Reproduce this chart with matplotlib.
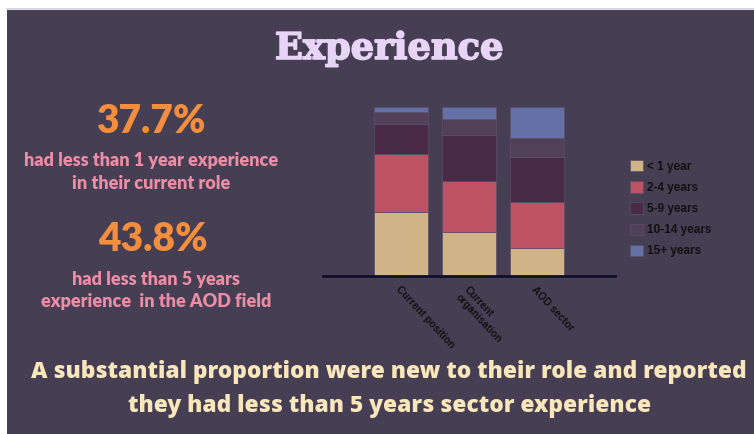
import matplotlib
matplotlib.use("Agg")
import matplotlib.pyplot as plt
import matplotlib.patheffects as pe
from matplotlib.patches import Rectangle, Patch

# share of respondents (%) by length of experience
categories = ["Current position", "Current\norganisation", "AOD sector"]
bands = ["< 1 year", "2-4 years", "5-9 years", "10-14 years", "15+ years"]
lt_1 = [37.7, 25.8, 16.5]
y2_4 = [34.2, 30.4, 27.3]
y5_9 = [18.1, 27.4, 26.8]
y10_14 = [7.0, 9.3, 11.3]
y15_plus = [3.0, 7.1, 18.1]
series = [lt_1, y2_4, y5_9, y10_14, y15_plus]
colors = ["#D0B488", "#BC5262", "#4A2B47", "#524058", "#6570A6"]

bg = "#463E53"
W, H = 754, 434


def fx(px):
    return px / W


def fy(py):
    return (H - py) / H


fig = plt.figure(figsize=(7.54, 4.34), dpi=100)
fig.patch.set_facecolor("white")
fig.add_artist(Rectangle((fx(7), 0), 1, fy(10), transform=fig.transFigure,
                         facecolor=bg, edgecolor="none", zorder=0))
fig.add_artist(plt.Line2D([fx(7), 1], [fy(9)] * 2, transform=fig.transFigure,
                          color="#D6DAE4", lw=1.5, zorder=1))

ax = fig.add_axes([fx(323), fy(276), 292 / W, 169 / H])
ax.set_facecolor("none")
x = range(len(categories))
bottom = [0, 0, 0]
for vals, col, name in zip(series, colors, bands):
    ax.bar(x, vals, 0.8, bottom=bottom, color=col, edgecolor="#5B5068",
           linewidth=0.5, label=name, zorder=2)
    bottom = [b + v for b, v in zip(bottom, vals)]

ax.set_xlim(-1.147, 3.147)
ax.set_ylim(0, 100)
for s in ["top", "right", "left"]:
    ax.spines[s].set_visible(False)
ax.spines["bottom"].set_color("#0E0E2C")
ax.spines["bottom"].set_linewidth(2)
ax.set_yticks([])
ax.set_xticks(list(x))
ax.set_xticklabels(categories, rotation=-47, ha="left", va="top",
                   rotation_mode="anchor", fontsize=7.5, fontweight="bold",
                   color="#111111", family="Liberation Sans")
ax.tick_params(axis="x", length=0, pad=6)

handles = [Patch(facecolor=c, edgecolor="#5B5068", linewidth=0.5) for c in colors]
fig.legend(handles, bands, loc="upper left", bbox_to_anchor=(fx(630), fy(160)),
           frameon=False, prop={"family": "Liberation Sans", "weight": "bold", "size": 8.5},
           labelcolor="#111111", handlelength=1.1, handleheight=1.1,
           handletextpad=0.3, labelspacing=0.72, borderpad=0, borderaxespad=0)

fig.text(fx(389), fy(59), "Experience", ha="center", va="baseline",
         fontsize=26.5, fontweight="bold", family="DejaVu Serif", color="#E8D4F6",
         path_effects=[pe.withStroke(linewidth=1.2, foreground="#E8D4F6")])

orange = "#F38E3E"
pink = "#EC8DA5"
cream = "#FAE6BB"
big = dict(ha="center", va="baseline", fontsize=28, fontweight="heavy",
           family="Lato", color=orange)
small = dict(ha="center", va="baseline", fontsize=13, fontweight="heavy",
             family="Lato", color=pink)
fig.text(fx(151), fy(133), "37.7%", **big)
fig.text(fx(151), fy(166), "had less than 1 year experience", **small)
fig.text(fx(151), fy(189), "in their current role", **small)
fig.text(fx(153), fy(251), "43.8%", **big)
fig.text(fx(156), fy(285), "had less than 5 years", **small)
fig.text(fx(156), fy(307), "experience  in the AOD field", **small)

foot = dict(ha="center", va="baseline", fontsize=16.4, fontweight="heavy",
            family="Open Sans", color=cream)
fig.text(fx(389), fy(378), "A substantial proportion were new to their role and reported", **foot)
fig.text(fx(390), fy(412), "they had less than 5 years sector experience", **foot)

fig.savefig("out.png", dpi=100, facecolor=fig.get_facecolor())
